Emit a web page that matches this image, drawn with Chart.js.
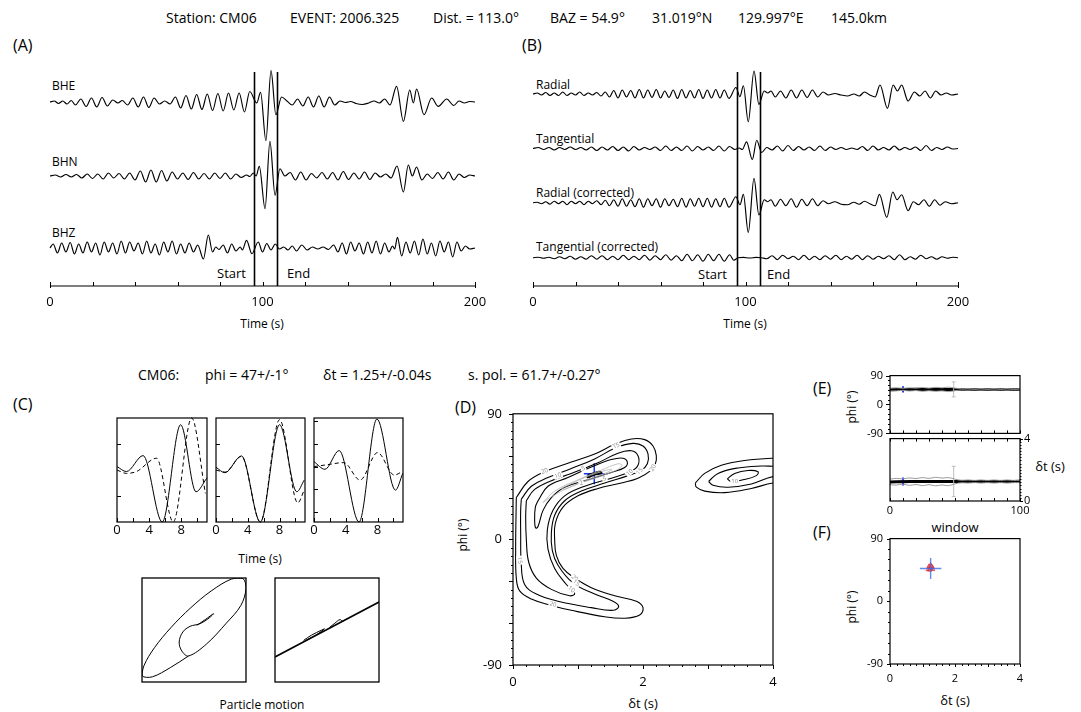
<!DOCTYPE html>
<html>
<head>
<meta charset="utf-8">
<script src="https://cdn.jsdelivr.net/npm/chart.js@4.4.1/dist/chart.umd.min.js"></script>
<style>
  body { margin: 0; background: #fff; }
  #fig { position: relative; width: 1081px; height: 712px; overflow: hidden; background: #fff;
         font-family: 'Open Sans', sans-serif; color: #000; }
  #fig canvas { position: absolute; }
  .t { position: absolute; white-space: nowrap; line-height: 1; }
</style>
</head>
<body>
<div id="fig"></div>
<script>
//Header texts
const stationInfo = ['Station: CM06', 'EVENT: 2006.325', 'Dist. = 113.0°', 'BAZ = 54.9°', '31.019°N', '129.997°E', '145.0km'];
const resultInfo = ['CM06:', 'phi = 47+/-1°', 'δt = 1.25+/-0.04s', 's. pol. = 61.7+/-0.27°'];

//Panels A and B: traces as [time (s), amplitude] at the turning points
const zneNames = ['BHE', 'BHN', 'BHZ'];
const rtNames = ['Radial', 'Tangential', 'Radial (corrected)', 'Tangential (corrected)'];
const windowTimes = [96, 107]; //Start, End
const timeTicks = [0, 100, 200];

const bhe = [[0,0],[2,1],[4,-1.5],[6,1],[8,-2],[10,1.5],[12,-3],[14.5,3],[17,-4.5],[19.5,4],[22,-5],[24.5,4.5],[27,-4],[29.5,2],[32,-1],[34,1.5],[36.5,-3],[39,4],[41.5,-5],[44,5],[46.5,-5.5],[49,4],[51.5,-2],[54,1],[56.5,-2],[59,5],[61.5,-6],[64,6.5],[66.5,-7],[69,7.5],[71.5,-7.5],[74,8],[76.5,-8.5],[79,8.5],[81.5,-9],[84,9],[86.5,-8],[89,9],[91.5,-10],[94,10.5],[97.3,-1],[99.1,9.7],[101.6,-38.7],[104,31.3],[106.3,-12.7],[109,5],[111.5,1],[114,-3],[116.5,3],[119,-4],[121.5,5],[124,-5],[126.5,6],[129,-5],[131.5,5],[134,-3],[136.5,1],[139,-0.5],[141.5,0.5],[144,-1.5],[147,-2.5],[150,-1],[152.5,1],[155,-1],[157.5,3],[160,-3],[163.1,15.7],[166.3,-19.3],[169.3,12],[171,-1],[172.5,13],[176,-12.7],[179.6,4],[182.7,-4.3],[186.7,3],[190,-3.5],[192.5,1],[195,-1],[197.5,0.5],[200,0]];
const bhn = [[0,0],[2.5,1],[5,-1],[7.5,1.5],[10,-1],[12.5,1.5],[15,-2],[17.5,2],[20,-2.5],[22.5,2],[25,-3],[27.5,3],[30,-2],[32.5,2.5],[35,-3],[37.5,3],[40,-4],[42.5,5],[45,-6],[47.5,6],[50,-6],[52.5,5.5],[55,-5],[57.5,4],[60,-3],[62.5,3],[65,-3.5],[67.5,3.5],[70,-3],[72.5,2.5],[75,-3],[77.5,3],[80,-2.5],[82.5,3],[85,-3],[87.5,2],[90,-1.5],[92.5,1],[94,-0.5],[95.7,3],[97,0],[98.5,9.7],[101.2,-32.7],[103.5,34.7],[105.9,-19.3],[108.2,7.3],[110.5,0],[113,3.5],[115.5,-4],[118,4],[120.5,-4],[123,2.5],[125.5,-2],[128,3.5],[130.5,-3],[133,3.5],[135.5,-4],[138,4.5],[140.5,-3.5],[143,3],[145.5,-3],[148,4],[150.5,-3.5],[153,3],[155.5,-1],[158,2],[160.5,-2],[163.3,10],[166.3,-16],[168.6,11],[170.5,0],[172.5,9],[175,-4],[177.5,2],[180,-2.5],[182.5,3.5],[185,-3],[187.5,4],[190,-4],[192.5,2],[195,-1.5],[197.5,1],[200,0]];
const bhz = [[0,0],[1.5,4],[3.5,-5],[5.5,5],[7.5,-4],[9.5,5.5],[11.5,-6],[13.5,4],[15.5,-5],[17.5,6],[19.5,-4],[21.5,5],[23.5,-7],[25.5,6],[27.5,-4],[29.5,5],[31.5,-6],[33.5,7],[35.5,-5],[37.5,6],[39.5,-3],[41.5,5],[43.5,-6],[45.5,7],[47.5,-5],[49.5,4],[51.5,-7],[53.5,6],[55.5,-4],[57.5,7],[59.5,-6],[61.5,4],[63.5,-5],[65.5,5],[67.5,-4],[69.5,3],[72.2,-11],[74.5,13],[76.5,-4],[78,1],[79.5,-1.5],[81.5,3],[83.5,-5],[85.5,4],[87.5,-3],[89.5,1],[90.5,-2],[92.5,7.7],[95,-5.7],[98,6],[100,-4],[102,4.5],[104,-2],[106,4],[108,-1],[110,1],[112,-2],[114,2],[116,-3],[118.5,3],[121,-2],[123.5,1],[126,-1],[128.5,1],[131,-1.5],[133.5,3],[135.5,-4],[137.5,5],[139.5,-6],[141.5,6],[143.5,-3],[145.5,5],[147.5,-6],[149.5,6],[151.5,-5],[153.5,7],[155.5,-6],[157.5,5],[159.5,-4],[161.2,2],[162.2,-1],[163.5,10.7],[165.5,-8],[167.5,6],[169.5,-5],[171.5,7],[173.5,-7],[175.5,9],[177.5,-6],[179.5,5],[181.5,-8],[183.5,7],[185.5,-4],[187.5,6],[189.5,-9],[191.5,6],[193.5,-3],[195.5,2],[197.5,-1],[200,0]];

const radial = [[0,0],[2,1],[4,-1],[6,1.5],[8,-1.5],[10,1],[12,-1.5],[14,2],[16,-1.5],[18,1],[20,-1],[22,2],[24,-1.5],[26,1],[28,-1],[30,1.5],[32,-2],[34,2],[36,-3],[38,3.5],[40,-4],[42,4],[44,-3],[46,3.5],[48,-4],[50,4.5],[52,-4],[54,4],[56,-3.5],[58,4.5],[60,-4],[62,3],[64,-3.5],[66,4],[68,-4.5],[70,4.5],[72,-4],[74,3.5],[76,-4],[78,4.5],[80,-4.5],[82,4],[84,-4],[86,4.5],[88,-4],[90,4],[92.2,-4.3],[95.5,6.5],[97.4,-2.7],[99,8.3],[101.3,-27.7],[104,23],[106.3,-10.3],[108.8,3],[110.5,1],[112,3],[114,-3],[116.5,3],[119,-4],[121.5,4],[124,-4],[126.5,4],[129,-3.5],[131.5,4],[134,-3],[136.5,2],[139,-1],[142,0.5],[145,-1],[148,-2],[151,0],[153.5,-2],[156,2],[158.5,-1],[161,-3],[163.3,9],[166.8,-14.3],[169.5,9],[171.5,3],[173.5,9],[176.5,-7],[179.5,2],[182,-2],[184.5,3],[187,-4],[189.5,3],[192,-1],[194.5,1],[197,-1],[200,0]];
const tangential = [[0,0],[2.5,1],[5,-1],[7.5,1],[10,-1.5],[12.5,1],[15,-1],[17.5,1.5],[20,-1],[22.5,1],[25,-1.5],[27.5,1.5],[30,-2],[32.5,1.5],[35,-1.5],[37.5,2],[40,-2],[42.5,1.5],[45,-2.5],[47.5,2],[50,-1.5],[52.5,1],[55,-1],[57.5,1.5],[60,-2],[62.5,2.5],[65,-2],[67.5,1.5],[70,-2],[72.5,2.5],[75,-2.5],[77.5,2],[80,-1.5],[82.5,1.5],[85,-2],[87.5,2.5],[90,-2.5],[92.5,2],[95,-1],[97,0.5],[98.5,-1],[100.5,6.7],[103.2,-11],[105.3,8.3],[107.6,-4],[110,1],[112.5,-1.5],[115,2.5],[117.5,-2.5],[120,3],[122.5,-2],[125,2],[127.5,-1.5],[130,1.5],[132.5,-2],[135,2.5],[137.5,-2],[140,1.5],[142.5,-1],[145,1],[147.5,-1],[150,0.5],[152.5,-1],[155,2],[157.5,-2],[160,2.5],[162.5,-1.5],[165,1],[167.5,-1.5],[170,2.5],[172.5,-1.5],[175,1],[177.5,-1],[180,1.5],[182.5,-2],[185,3],[187.5,-2],[190,1],[192.5,-1],[195,1.5],[197.5,-0.5],[200,0]];
const radialCorr = [[0,0],[2,0.5],[4,-1],[6,1],[8,-1.5],[10,1.5],[12,-1],[14,1.5],[16,-2],[18,1.5],[20,-1],[22,1.5],[24,-2],[26,1.5],[28,-1],[30,2],[32,-2],[34,2.5],[36,-3],[38,3],[40,-3.5],[42,4],[44,-3.5],[46,3],[48,-4],[50,4],[52,-4.5],[54,4],[56,-3],[58,4],[60,-4.5],[62,4],[64,-3],[66,3.5],[68,-4],[70,4.5],[72,-4.5],[74,4],[76,-3.5],[78,4.5],[80,-4],[82,4.5],[84,-4.5],[86,4],[88,-4],[90,4.5],[92.2,-4.5],[95.5,6],[97.4,-2],[99,8.3],[101.3,-29.7],[104,24.3],[106.3,-12.3],[108.8,3],[110.5,1],[112,3],[114,-3.5],[116.5,3.5],[119,-3],[121.5,4],[124,-4.5],[126.5,3.5],[129,-3],[131.5,4],[134,-3],[136.5,2],[139,-1],[142,1],[145,-1.5],[148,-2],[151,0.5],[153.5,-1.5],[156,1.5],[158.5,-1],[161,-3],[163,8.3],[166.5,-14.7],[169.3,10.7],[171.3,3],[173.5,8],[176.5,-8],[179,1],[181.5,-2],[184,3],[186.5,-3.5],[189,3],[191.5,-2.5],[194,1],[197,-1],[200,0]];
const tangentialCorr = [[0,0],[2.5,0.5],[5,-0.5],[7.5,0.5],[10,-1],[12.5,1],[15,-1],[17.5,1.5],[20,-1.5],[22.5,1],[25,-1.5],[27.5,2],[30,-1.5],[32.5,2],[35,-2],[37.5,1.5],[40,-2],[42.5,2.5],[45,-2],[47.5,1.5],[50,-2],[52.5,2.5],[55,-2.5],[57.5,2],[60,-2],[62.5,3],[65,-2.5],[67.5,2],[70,-3],[72.5,3.5],[75,-3],[77.5,3],[80,-3.5],[82.5,3.5],[85,-3],[87.5,3.5],[90,-3.5],[92.5,3],[94.5,-2.5],[96.5,0],[99,0.3],[102,-0.3],[105,0.3],[107.5,0],[110,-1],[112.5,2],[115,-2],[117.5,2.5],[120,-1],[122.5,1.5],[125,-2],[127.5,2.5],[130,-2],[132.5,1.5],[135,-2],[137.5,2],[140,-1.5],[142.5,2.5],[145,-2],[147.5,1.5],[150,-1.5],[152.5,2.5],[155,-2],[157.5,2],[160,-1.5],[162.5,1.5],[165,-1],[167.5,2],[170,-2],[172.5,3],[175,-2],[177.5,1],[180,-1.5],[182.5,2.5],[185,-1],[187.5,1],[190,-1.5],[192.5,1],[195,-0.5],[197.5,0.5],[200,0]];

//Panel C: waveforms in the window, [time (s), normalised amplitude]
const c1Solid = [[0,0.065],[1.17,-0.03],[3.25,0.277],[5.63,-1],[7.92,0.871],[9.83,-0.419],[11.2,-0.15]];
const c1Dashed = [[0,0],[1.17,-0.065],[2.42,-0.03],[4.92,0.226],[7.0,-1],[9.29,1],[11.0,-0.45]];
const c2Solid = [[0,0.052],[1.125,-0.052],[3.21,0.271],[5.58,-1],[8.0,0.871],[10.17,-0.419],[11.1,-0.194]];
const c2Dashed = [[0,0],[1.125,-0.04],[3.21,0.26],[5.58,-1],[8.0,0.968],[10.29,-0.632],[11.1,-0.387]];
const c3Solid = [[0,0.161],[1.375,0.013],[3.17,0.374],[5.67,-1],[7.92,0.981],[10.25,-0.387],[11.17,-0.065]];
const c3Dashed = [[0,0.065],[1.6,0.1],[3.75,0.142],[5.8,-0.194],[8.0,0.335],[10.1,-0.097],[11.1,-0.032]];
const cYTicks = [[0.5, -0.5], [0.5, -0.5], [0.95, 0.5, 0.065, -0.37, -0.81]];
const windowTicks = [0, 4, 8];

//Particle motion (normalised)
const pmBefore = [[0.054,0.09],[0.215,0.199],[0.375,0.314],[0.298,0.237],[0.119,0.122],[-0.074,0.071],[-0.215,-0.038],[-0.285,-0.231],[-0.234,-0.404],[-0.106,-0.5],[0.24,-0.27],[0.62,0.13],[0.9,0.47],[1.0,0.8],[0.94,0.99],[0.72,0.98],[0.33,0.75],[-0.06,0.43],[-0.44,0.05],[-0.76,-0.34],[-0.96,-0.68],[-0.997,-0.88],[-0.8,-0.9],[-0.45,-0.72],[-0.106,-0.5]];
const pmAfterLine = [[-1,-0.519],[1,0.538]];
const pmAfterLoop = [[-0.45,-0.2],[-0.3,-0.1],[-0.1,0],[-0.05,0.02],[-0.2,-0.09],[-0.4,-0.2]];
const pmAfterHook = [[0.05,0.05],[0.15,0.13],[0.25,0.2],[0.3,0.17],[0.37,0.21]];

//Panel D: error surface contours, [δt (s), phi (°)]
const contour20 = [[0.051,30.0],[0.231,41.5],[0.487,48.5],[0.897,55.4],[1.256,61.2],[1.564,68.1],[1.821,72.0],[2.026,71.5],[2.154,66.9],[2.205,60.0],[2.19,54.2],[2.128,49.6],[1.923,43.8],[1.667,40.4],[1.308,36.5],[1.0,31.2],[0.769,23.1],[0.651,11.5],[0.641,0.0],[0.667,-11.5],[0.769,-20.8],[0.949,-27.7],[1.205,-34.6],[1.564,-40.4],[1.897,-44.3],[2.0,-48.9],[1.949,-54.2],[1.718,-56.5],[1.41,-55.4],[0.897,-50.8],[0.59,-47.3],[0.282,-42.7],[0.103,-36.9],[0.051,-27.7],[0.041,-6.9],[0.046,16.2]];
const contour15 = [[0.128,28.8],[0.282,38.1],[0.538,44.3],[0.897,50.8],[1.256,57.7],[1.59,65.8],[1.846,68.8],[2.0,66.9],[2.077,61.2],[2.067,54.2],[1.974,49.6],[1.769,45.7],[1.41,40.4],[1.051,34.6],[0.795,27.7],[0.641,17.3],[0.59,4.6],[0.605,-8.1],[0.692,-18.5],[0.923,-31.2],[1.256,-39.2],[1.538,-44.3],[1.626,-48.0],[1.538,-50.8],[1.205,-48.9],[0.692,-44.3],[0.359,-39.2],[0.179,-32.3],[0.128,-18.5],[0.118,4.6],[0.118,20.8]];
const contour10 = [[0.205,27.7],[0.333,35.8],[0.59,42.0],[0.897,47.3],[1.308,54.9],[1.615,61.8],[1.821,63.5],[1.923,60.0],[1.923,53.1],[1.821,48.9],[1.513,43.8],[1.103,38.1],[0.795,31.2],[0.615,20.8],[0.528,6.9],[0.538,-6.9],[0.641,-20.8],[0.821,-32.3],[0.949,-38.8],[0.872,-40.4],[0.59,-35.8],[0.359,-27.7],[0.241,-16.2],[0.205,0.0],[0.195,16.2]];
const contour5 = [[0.385,27.7],[0.538,38.1],[0.846,44.3],[1.205,51.9],[1.513,57.2],[1.692,58.2],[1.759,55.4],[1.718,51.5],[1.513,48.0],[1.154,42.7],[0.795,37.4],[0.59,30.0],[0.462,20.8],[0.385,9.2],[0.349,8.1],[0.333,13.8],[0.344,23.1]];
const contour2 = [[0.462,26.5],[0.641,34.6],[1.0,42.7],[1.359,49.6],[1.615,54.2],[1.677,53.1],[1.59,49.6],[1.231,43.4],[0.872,37.4],[0.59,30.5]];
const contour1 = [[0.744,36.5],[1.103,44.3],[1.436,49.6],[1.523,50.1],[1.436,47.8],[1.103,42.0],[0.795,36.0]];
const minimumLoop = [[1.144,45.7],[1.231,47.3],[1.333,48.5],[1.359,47.5],[1.256,46.4],[1.154,44.5]];
const side20 = [[2.805,40.4],[2.949,47.3],[3.205,53.1],[3.564,56.5],[4.0,58.2],[4.2,58],[4.2,40],[4.0,40.4],[3.667,36.5],[3.256,33.5],[2.949,34.6],[2.821,37.4]];
const side15 = [[3.01,41.5],[3.154,47.3],[3.462,51.2],[3.821,52.6],[4.0,52.4],[4.2,52],[4.2,44.5],[4.0,45.0],[3.667,39.7],[3.308,37.4],[3.077,38.8]];
const side10 = [[3.297,43.4],[3.41,47.3],[3.615,49.4],[3.769,48.5],[3.744,45.7],[3.538,42.7],[3.359,41.5]];
const contourLabels = [[0.487,48.9,'20',-20],[0.692,45.7,'10',-20],[1.082,50.8,'5',-20],[1.051,40.4,'2',-20],[1.41,43.4,'5',-20],[1.795,48.0,'10',-40],[1.949,48.9,'15',-50],[2.154,51.2,'20',-60],[1.59,66.9,'15',-25],[0.103,-15.0,'15',80],[0.949,-27.7,'20',40],[0.974,-31.2,'15',40],[0.897,-35.8,'10',40],[0.615,-46.6,'20',15],[3.41,41.5,'10',0]];
const bestDt = 1.25, bestPhi = 47;
const crossDt = 0.16, crossPhi = 7.5;

//Panel E: stability over analysis windows
const windows = [0,5,10,15,20,25,30,35,40,45,50,55,60,65,70,75,80,85,90,95,100];
const phiBest = [46,46.5,47,47,47.5,47,47,47.5,47,47,47,47,47,47,47,47,47,47,47,47,47];
const phiHi = [51,52,50.5,52,51,53,51,53.5,52,54,51,49,49.5,48.5,49.5,48.5,49.5,48.5,49.5,48.5,49];
const phiLo = [42,42.5,44,42,43.5,41,43,41,42.5,40,43,45,44.5,45.5,44.5,45.5,44.5,45.5,44.5,45.5,45];
const dtBest = [1.22,1.23,1.24,1.25,1.25,1.25,1.25,1.25,1.25,1.25,1.25,1.25,1.25,1.25,1.25,1.25,1.25,1.25,1.25,1.25,1.26];
const dtHi = [1.4,1.45,1.42,1.48,1.44,1.5,1.45,1.52,1.47,1.5,1.4,1.33,1.35,1.32,1.35,1.32,1.35,1.32,1.35,1.32,1.33];
const dtLo = [1.05,1.02,1.08,1.0,1.06,0.98,1.05,0.97,1.03,0.98,1.1,1.17,1.15,1.18,1.15,1.18,1.15,1.18,1.15,1.18,1.17];
const bestWindow = 10, errWindow = 49, phiErr = 23.3, dtErr = 0.97;

//Panel F: cluster of results
const clusterDt = [1.2,1.25,1.3,1.18,1.31,1.24,1.27,1.22];
const clusterPhi = [50,52,49,46,46,47,50,45];

//Chart.js setup
Chart.defaults.font.family = "'Open Sans', sans-serif";
Chart.defaults.font.size = 13;
Chart.defaults.color = '#000';

const fig = document.getElementById('fig');
const range = (a, b, s) => { const r = []; for (let v = a; v <= b + 1e-9; v += s) r.push(+v.toFixed(6)); return r; };

function label(str, x, y, size, align, rot) {
  const d = document.createElement('div');
  d.className = 't';
  d.textContent = str;
  d.style.left = x + 'px';
  d.style.top = y + 'px';
  d.style.fontSize = size + 'px';
  const tx = align === 'center' ? '-50%' : align === 'right' ? '-100%' : '0';
  d.style.transform = 'translate(' + tx + ',-50%)' + (rot ? ' rotate(' + rot + 'deg)' : '');
  fig.appendChild(d);
}

//frame, tick marks, window lines and contour labels
function deco(d) {
  return {
    id: 'deco',
    afterDatasetsDraw(chart) {
      const { ctx, chartArea: a, scales } = chart;
      ctx.save();
      ctx.strokeStyle = '#000';
      (d.vlines || []).forEach((v) => {
        const px = Math.round(scales.x.getPixelForValue(v)) + 0.5;
        ctx.lineWidth = 1.6;
        ctx.beginPath(); ctx.moveTo(px, a.top); ctx.lineTo(px, a.bottom); ctx.stroke();
      });
      (d.ticks || []).forEach((t) => {
        const s = scales[t.scale];
        const horiz = t.side === 'top' || t.side === 'bottom';
        const sign = t.side === 'bottom' || t.side === 'right' ? 1 : -1;
        const edge = a[t.side];
        ctx.lineWidth = t.width || 1;
        ctx.beginPath();
        t.values.forEach((v) => {
          const p = Math.round(s.getPixelForValue(v)) + 0.5;
          const e1 = edge - sign * (t.inner || 0);
          const e2 = edge + sign * (t.outer || 0);
          if (horiz) { ctx.moveTo(p, e1); ctx.lineTo(p, e2); } else { ctx.moveTo(e1, p); ctx.lineTo(e2, p); }
        });
        ctx.stroke();
      });
      (d.notes || []).forEach((n) => {
        ctx.save();
        ctx.translate(scales.x.getPixelForValue(n[0]), scales.y.getPixelForValue(n[1]));
        ctx.rotate((n[3] * Math.PI) / 180);
        ctx.font = "6px 'Open Sans'";
        const w = ctx.measureText(n[2]).width;
        ctx.fillStyle = '#fff';
        ctx.fillRect(-w / 2 - 1, -3, w + 2, 6);
        ctx.fillStyle = '#888';
        ctx.textAlign = 'center';
        ctx.textBaseline = 'middle';
        ctx.fillText(n[2], 0, 0);
        ctx.restore();
      });
      ctx.lineWidth = d.frame || 1.2;
      if (d.box) ctx.strokeRect(a.left, a.top, a.width, a.height);
      if (d.baseline) {
        ctx.beginPath(); ctx.moveTo(a.left, a.bottom); ctx.lineTo(a.right, a.bottom); ctx.stroke();
      }
      ctx.restore();
    },
  };
}

function place(left, top, w, h, config, d) {
  const cv = document.createElement('canvas');
  cv.width = w; cv.height = h;
  cv.style.left = left + 'px'; cv.style.top = top + 'px';
  cv.style.width = w + 'px'; cv.style.height = h + 'px';
  fig.appendChild(cv);
  const o = config.options;
  o.responsive = false;
  o.animation = false;
  o.events = [];
  o.devicePixelRatio = 1;
  o.layout.autoPadding = false;
  o.plugins = { legend: { display: false }, tooltip: { enabled: false } };
  config.plugins = [deco(d || {})];
  return new Chart(cv, config);
}

//an axis with fixed size and only the wanted labels
function axis(min, max, labels, pad, fit, size, extra) {
  return Object.assign({
    type: 'linear', min, max,
    grid: { display: false, drawTicks: false },
    border: { display: false },
    ticks: { padding: pad, autoSkip: false, maxRotation: 0, font: { size: size } },
    afterBuildTicks: (s) => { s.ticks = labels.map((v) => ({ value: v })); },
    afterFit: (s) => { if (s.isHorizontal()) s.height = fit; else s.width = fit; },
  }, extra);
}
const hidden = (min, max) => ({ type: 'linear', min, max, display: false });

const wave = (pairs, off, extra) => Object.assign({
  data: pairs.map((p) => ({ x: p[0], y: p[1] + off })),
  borderColor: '#000', borderWidth: 1.15, pointRadius: 0,
  cubicInterpolationMode: 'monotone', clip: false,
}, extra);
const path = (pairs, extra) => Object.assign({
  data: pairs.map((p) => ({ x: p[0], y: p[1] })),
  showLine: true, borderColor: '#000', borderWidth: 1.1, pointRadius: 0, tension: 0.4,
}, extra);
const loop = (pairs, extra) => path(pairs.concat([pairs[0]]), extra);
const series = (xs, ys, extra) => Object.assign({
  data: xs.map((x, i) => ({ x, y: ys[i] })),
  showLine: true, borderColor: '#000', borderWidth: 1, pointRadius: 0, tension: 0.4,
}, extra);
const seg = (x1, y1, x2, y2, color, width) => ({
  data: [{ x: x1, y: y1 }, { x: x2, y: y2 }],
  showLine: true, borderColor: color, borderWidth: width, pointRadius: 0, tension: 0,
});
const cross = (cx, cy, ex, ey, color, width) =>
  [seg(cx - ex, cy, cx + ex, cy, color, width), seg(cx, cy - ey, cx, cy + ey, color, width)];
const errbar = (x, y, e, cap, color) =>
  [seg(x, y - e, x, y + e, color, 1), seg(x - cap, y + e, x + cap, y + e, color, 1), seg(x - cap, y - e, x + cap, y - e, color, 1)];

//Texts
stationInfo.forEach((s, i) => label(s, [166, 290, 433, 550, 652, 738, 831][i], 18, 14));
resultInfo.forEach((s, i) => label(s, [138, 205, 323, 468][i], 375, 14));
[['(A)', 13, 45], ['(B)', 522, 45], ['(C)', 13, 404], ['(D)', 455, 407], ['(E)', 813, 388], ['(F)', 813, 532]]
  .forEach((p) => label(p[0], p[1], p[2], 16));
zneNames.forEach((s, i) => label(s, 52, [86, 162, 233][i], 12));
rtNames.forEach((s, i) => label(s, 536, [85, 139, 193, 247][i], 12));
label('Start', 246, 273, 13, 'right');
label('End', 287, 273, 13);
label('Start', 727, 274, 13, 'right');
label('End', 767, 274, 13);
label('Time (s)', 262, 324, 12, 'center');
label('Time (s)', 745, 324, 12, 'center');
label('Time (s)', 260, 559, 12, 'center');
label('Particle motion', 262, 705, 12, 'center');
label('phi (°)', 463, 535, 12, 'center', -90);
label('δt (s)', 643, 703, 13, 'center');
label('phi (°)', 852, 407, 12, 'center', -90);
label('δt (s)', 1050, 466, 13, 'center');
label('window', 955, 527, 13, 'center');
label('phi (°)', 852, 607, 12, 'center', -90);
label('δt (s)', 955, 700, 13, 'center');

//Panels A and B
const timeMarks = [
  { scale: 'x', side: 'bottom', values: range(0, 200, 20), inner: 4 },
  { scale: 'x', side: 'bottom', values: [0, 200], outer: 2 },
];
function traces(left, list, offsets) {
  place(left, 62, 470, 250, {
    type: 'line',
    data: { datasets: list.map((tr, i) => wave(tr, offsets[i])) },
    options: {
      layout: { padding: { left: 20, right: 25, top: 10, bottom: 0 } },
      scales: { x: axis(0, 200, timeTicks, 8, 26, 13), y: hidden(0, 214) },
    },
  }, { vlines: windowTimes, baseline: true, ticks: timeMarks });
}
traces(30, [bhe, bhn, bhz], [184, 110, 38]);
traces(513, [radial, tangential, radialCorr, tangentialCorr], [192, 137.5, 83.3, 28.3]);

//Panel C: three waveform boxes
[[c1Solid, c1Dashed, 117, 90], [c2Solid, c2Dashed, 216, 89], [c3Solid, c3Dashed, 314, 89]].forEach((p, i) => {
  place(p[2] - 10, 408, p[3] + 20, 135, {
    type: 'line',
    data: { datasets: [wave(p[0], 0, { borderWidth: 1 }), wave(p[1], 0, { borderWidth: 1, borderDash: [4, 3] })] },
    options: {
      layout: { padding: { left: 10, right: 10, top: 10, bottom: 0 } },
      scales: { x: axis(0, 11.2, windowTicks, 0, 21, 13), y: hidden(-1, 1) },
    },
  }, {
    box: true,
    ticks: [
      { scale: 'x', side: 'bottom', values: range(0, 10, 2), inner: 4 },
      { scale: 'y', side: 'left', values: cYTicks[i], inner: 4 },
    ],
  });
});

//particle motion boxes
[[pmBefore], [pmAfterLine, pmAfterLoop, pmAfterHook]].forEach((set, i) => {
  place(132 + i * 133, 568, 124, 124, {
    type: 'scatter',
    data: { datasets: set.map((pm, k) => path(pm, { borderWidth: i === 1 && k === 0 ? 1.6 : 1, tension: 0.35 })) },
    options: {
      layout: { padding: 10 },
      scales: { x: hidden(-1, 1), y: hidden(-1, 1) },
    },
  }, { box: true, frame: 1.3 });
});

//Panel D: error surface
const grey = { borderColor: '#b4b4b4', borderWidth: 0.8 };
place(463, 395, 327, 300, {
  type: 'scatter',
  data: {
    datasets: [
      loop(contour1, grey), loop(contour2, grey),
      loop(contour5), loop(contour10), loop(contour15), loop(contour20),
      loop(side10), loop(side15), loop(side20),
      loop(minimumLoop, { borderWidth: 2 }),
      ...cross(bestDt, bestPhi, crossDt, crossPhi, '#1238ff', 1.5),
    ],
  },
  options: {
    layout: { padding: { left: 0, right: 17, top: 10, bottom: 0 } },
    scales: { x: axis(0, 4, [0, 2, 4], 9, 30, 13), y: axis(-90, 90, [-90, 0, 90], 11, 50, 13) },
  },
}, {
  box: true,
  notes: contourLabels,
  ticks: [
    { scale: 'x', side: 'bottom', values: range(0, 4, 0.2), outer: 2 },
    { scale: 'x', side: 'bottom', values: range(0, 4, 1), outer: 4 },
    { scale: 'y', side: 'left', values: range(-90, 90, 6), outer: 2 },
    { scale: 'y', side: 'left', values: range(-90, 90, 30), outer: 4 },
  ],
});

//Panel E: phi and δt against window
place(855, 362, 180, 85, {
  type: 'scatter',
  data: {
    datasets: [
      series(windows, phiHi, { borderColor: '#9a9a9a' }),
      series(windows, phiLo, { borderColor: '#9a9a9a' }),
      ...errbar(errWindow, bestPhi, phiErr, 1.5, '#bdbdbd'),
      series(windows, phiBest, { borderWidth: 3, tension: 0 }),
      ...cross(bestWindow, bestPhi, 3.3, 10, '#1a3cff', 2),
    ],
  },
  options: {
    layout: { padding: { left: 0, right: 15, top: 10, bottom: 9 } },
    scales: { x: hidden(0, 100), y: axis(-90, 90, [-90, 0, 90], 7, 35, 11) },
  },
}, {
  box: true,
  ticks: [
    { scale: 'y', side: 'left', values: range(-90, 90, 15), outer: 2 },
    { scale: 'y', side: 'left', values: [-90, 0, 90], outer: 4 },
    { scale: 'x', side: 'bottom', values: range(0, 100, 10), inner: 3 },
  ],
});
place(855, 428, 190, 95, {
  type: 'scatter',
  data: {
    datasets: [
      series(windows, dtHi, { borderColor: '#9a9a9a' }),
      series(windows, dtLo, { borderColor: '#9a9a9a' }),
      ...errbar(errWindow, 1.25, dtErr, 1.5, '#bdbdbd'),
      series(windows, dtBest, { borderWidth: 3, tension: 0 }),
      ...cross(bestWindow, 1.25, 3.3, 0.25, '#1a3cff', 2),
    ],
  },
  options: {
    layout: { padding: { left: 35, right: 0, top: 10, bottom: 0 } },
    scales: {
      x: axis(0, 100, [0, 100], 3, 22, 11),
      y: axis(0, 4, [0, 4], 4, 25, 11, { position: 'right' }),
    },
  },
}, {
  box: true,
  ticks: [
    { scale: 'x', side: 'top', values: range(0, 100, 10), inner: 3 },
    { scale: 'x', side: 'bottom', values: range(0, 100, 10), inner: 3 },
    { scale: 'y', side: 'right', values: range(0, 4, 0.2), outer: 1.5 },
    { scale: 'y', side: 'right', values: [0, 4], outer: 3 },
  ],
});

//Panel F: cluster
place(855, 525, 180, 185, {
  type: 'scatter',
  data: {
    datasets: [
      ...cross(bestDt, bestPhi, 0.33, 15, 'rgba(60,110,235,0.8)', 1.4),
      {
        data: clusterDt.map((x, i) => ({ x, y: clusterPhi[i] })),
        pointStyle: 'triangle', pointRadius: 2.5,
        backgroundColor: 'rgba(255,110,110,0.5)', borderColor: 'rgba(225,40,40,0.75)', borderWidth: 1,
      },
      { data: [{ x: bestDt, y: bestPhi }], pointRadius: 1.8, backgroundColor: '#302040', borderColor: '#302040' },
    ],
  },
  options: {
    layout: { padding: { left: 0, right: 15, top: 10, bottom: 0 } },
    scales: { x: axis(0, 4, [0, 2, 4], 8, 46, 11), y: axis(-90, 90, [-90, 0, 90], 7, 35, 11) },
  },
}, {
  box: true,
  ticks: [
    { scale: 'x', side: 'bottom', values: range(0, 4, 0.2), outer: 2 },
    { scale: 'x', side: 'bottom', values: range(0, 4, 1), outer: 3 },
    { scale: 'y', side: 'left', values: range(-90, 90, 15), outer: 2 },
    { scale: 'y', side: 'left', values: [-90, 0, 90], outer: 3 },
  ],
});
</script>
</body>
</html>
